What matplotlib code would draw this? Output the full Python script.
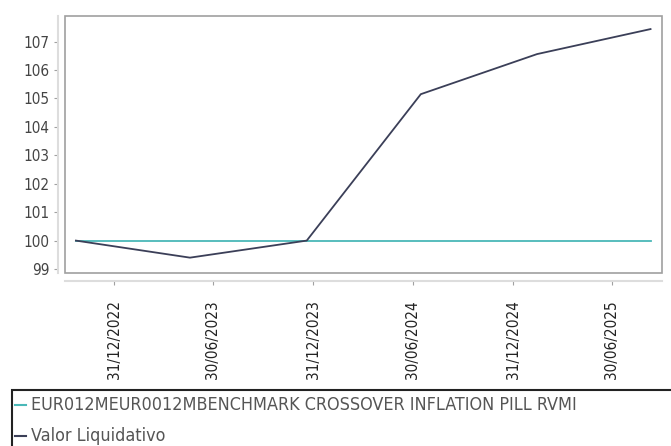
import numpy as np
import pandas as pd
import matplotlib
matplotlib.use("Agg")
import matplotlib.pyplot as plt
import matplotlib.dates as mdates
from matplotlib.patches import Rectangle
from matplotlib.lines import Line2D

# dados
dates = pd.to_datetime(["2022-10-22", "2023-05-19", "2023-12-19",
                        "2024-07-15", "2025-02-13", "2025-09-09"])
benchmark = [100, 100, 100, 100, 100, 100]
valor_liq = [100.0, 99.40, 100.0, 105.15, 106.56, 107.44]

tick_dates = pd.to_datetime(["2022-12-31", "2023-06-30", "2023-12-31",
                             "2024-06-30", "2024-12-31", "2025-06-30"])
y_ticks = [99, 100, 101, 102, 103, 104, 105, 106, 107]

bench_name = "EUR012MEUR0012MBENCHMARK CROSSOVER INFLATION PILL RVMI"
valor_name = "Valor Liquidativo"

teal = "#4ab8b8"
navy = "#3b3f58"
grey_txt = "#444444"
grey_ax = "#a0a0a0"

W, H = 671, 446
fig = plt.figure(figsize=(W / 100, H / 100), dpi=100)
ax = fig.add_axes([65 / W, 1 - 273 / H, 597 / W, 257 / H])

ax.plot(dates, benchmark, color=teal, lw=1.3)
ax.plot(dates, valor_liq, color=navy, lw=1.3)

ax.set_xlim(pd.Timestamp("2022-12-31") - pd.Timedelta(days=90),
            pd.Timestamp("2022-12-31") + pd.Timedelta(days=1004))
ax.set_ylim(98.86, 107.9)
ax.set_yticks(y_ticks)
ax.set_xticks(tick_dates)
ax.xaxis.set_major_formatter(mdates.DateFormatter("%d/%m/%Y"))

# eixos deslocados, caixa a parte
ax.spines["left"].set_position(("outward", 5))
ax.spines["bottom"].set_position(("outward", 6))
for s in ["top", "right"]:
    ax.spines[s].set_visible(False)
for s in ["left", "bottom"]:
    ax.spines[s].set_color("#dddddd")
    ax.spines[s].set_linewidth(1.5)
ax.add_patch(Rectangle((0, 0), 1, 1, transform=ax.transAxes, fill=False,
                       edgecolor=grey_ax, lw=1.2, clip_on=False))

ax.tick_params(axis="y", labelsize=11, colors=grey_ax, labelcolor=grey_txt,
               length=3, pad=3)
ax.tick_params(axis="x", labelsize=11, colors=grey_ax, labelcolor="#222222",
               length=3, pad=10.5, labelrotation=90)
for lab in ax.get_xticklabels() + ax.get_yticklabels():
    lab.set_fontstretch("condensed")

# legenda em caixa na parte de baixo
fig.patches.append(Rectangle((12 / W, -0.1), 1.0, (H - 390) / H + 0.1,
                             transform=fig.transFigure, fill=False,
                             edgecolor="#222222", lw=1.5))
for name, col, yp in [(bench_name, teal, 405), (valor_name, navy, 436)]:
    fig.lines.append(Line2D([15 / W, 26 / W], [1 - yp / H, 1 - yp / H],
                            transform=fig.transFigure, color=col, lw=1.5))
    fig.text(31 / W, 1 - yp / H, name, family="DejaVu Sans", stretch="condensed",
             fontsize=12.9, color="#555555", va="center", ha="left")

fig.savefig("out.png", dpi=100)
